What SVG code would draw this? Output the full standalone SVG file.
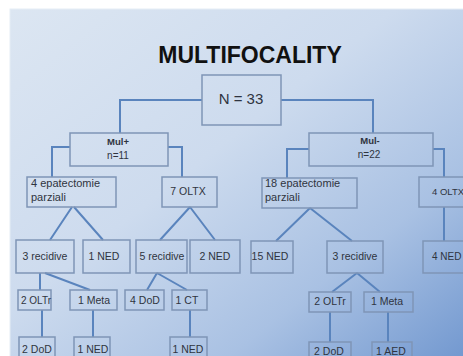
<svg xmlns="http://www.w3.org/2000/svg" width="463" height="356" viewBox="0 0 463 356">
<defs>
<linearGradient id="bg" x1="0" y1="0" x2="1" y2="1">
<stop offset="0" stop-color="#dce6f2"/>
<stop offset="0.42" stop-color="#cddbee"/>
<stop offset="0.72" stop-color="#a9c1e3"/>
<stop offset="1" stop-color="#6e95ce"/>
</linearGradient>
<style>
.box{fill:none;stroke:#7f95b6;stroke-width:1.5}
.ln{fill:none;stroke:#5a84bd;stroke-width:2}
.t{font-family:"Liberation Sans",Arial,sans-serif;font-size:10.5px;fill:#2f3440}
.c{text-anchor:middle}
.b{font-weight:bold}
</style>
</defs>
<rect x="0" y="0" width="463" height="356" fill="#ffffff"/>
<rect x="10" y="9" width="460" height="360" fill="url(#bg)" stroke="#e6edf6" stroke-width="1"/>
<text x="250" y="63" text-anchor="middle" style="font-family:'Liberation Sans',Arial,sans-serif;font-size:23px;font-weight:bold;fill:#111">MULTIFOCALITY</text>

<g id="connectors">
<path class="ln" d="M202 100 H120 V133"/>
<path class="ln" d="M281 100 H373 V133"/>
<path class="ln" d="M70 147 H52 V177"/>
<path class="ln" d="M168 147 H182 V177"/>
<path class="ln" d="M309 149 H287 V178"/>
<path class="ln" d="M433 149 H444 V177"/>
<path class="ln" d="M72 207 L50 240 M74 207 L103 240"/>
<path class="ln" d="M190 207 L160 240 M190 207 L215 240"/>
<path class="ln" d="M310 208 L276 241 M310 208 L352 241"/>
<path class="ln" d="M444 207 V241"/>
<path class="ln" d="M40 273 V290 M45 273 L90 290"/>
<path class="ln" d="M157 273 L147 290 M157 273 L187 290"/>
<path class="ln" d="M357 273 L332 292 M357 273 L380 292"/>
<path class="ln" d="M42 310 V337 M93 310 V337 M190 310 V337"/>
<path class="ln" d="M330 312 V342 M388 312 V342"/>
</g>

<g id="n33"><rect class="box" x="202" y="75" width="79" height="50"/><text class="t c" x="241" y="104" style="font-size:15px">N = 33</text></g>
<g id="mulplus"><rect class="box" x="70" y="133" width="98" height="33"/><text class="t c b" x="118" y="145" style="font-size:9.5px">Mul+</text><text class="t c" x="118" y="159" style="font-size:10px">n=11</text></g>
<g id="mulminus"><rect class="box" x="309" y="133" width="124" height="33"/><text class="t c b" x="370" y="144" style="font-size:9.5px">Mul-</text><text class="t c" x="369" y="158" style="font-size:10px">n=22</text></g>

<g id="epat4"><rect class="box" x="27" y="177" width="89" height="30"/><text class="t" x="31" y="187" style="font-size:11px">4 epatectomie</text><text class="t" x="31" y="201" style="font-size:11px">parziali</text></g>
<g id="oltx7"><rect class="box" x="162" y="177" width="55" height="30"/><text class="t c" x="188" y="195">7 OLTX</text></g>
<g id="epat18"><rect class="box" x="262" y="178" width="95" height="30"/><text class="t" x="265" y="187" style="font-size:11px">18 epatectomie</text><text class="t" x="265" y="201" style="font-size:11px">parziali</text></g>
<g id="oltx4"><rect class="box" x="419" y="177" width="60" height="30"/><text class="t" x="432" y="195" style="font-size:9.5px">4 OLTX</text></g>

<g id="rec3a"><rect class="box" x="16" y="240" width="58" height="33"/><text class="t c" x="45" y="260">3 recidive</text></g>
<g id="ned1a"><rect class="box" x="83" y="240" width="47" height="33"/><text class="t c" x="104" y="260">1 NED</text></g>
<g id="rec5"><rect class="box" x="136" y="240" width="51" height="33"/><text class="t c" x="162" y="260">5 recidive</text></g>
<g id="ned2"><rect class="box" x="190" y="240" width="50" height="33"/><text class="t c" x="215" y="260">2 NED</text></g>
<g id="ned15"><rect class="box" x="251" y="241" width="42" height="32"/><text class="t c" x="270" y="260">15 NED</text></g>
<g id="rec3b"><rect class="box" x="327" y="241" width="56" height="32"/><text class="t c" x="355" y="260">3 recidive</text></g>
<g id="ned4"><rect class="box" x="423" y="241" width="56" height="32"/><text class="t" x="432" y="260" style="font-size:10px">4 NED</text></g>

<g id="oltr2a"><rect class="box" x="18" y="290" width="33" height="20"/><text class="t c" x="36" y="304" style="font-size:10px">2 OLTr</text></g>
<g id="meta1a"><rect class="box" x="70" y="290" width="47" height="20"/><text class="t c" x="94" y="304">1 Meta</text></g>
<g id="dod4"><rect class="box" x="125" y="290" width="39" height="20"/><text class="t c" x="145" y="304">4 DoD</text></g>
<g id="ct1"><rect class="box" x="172" y="290" width="35" height="20"/><text class="t c" x="187" y="304">1 CT</text></g>
<g id="oltr2b"><rect class="box" x="309" y="292" width="42" height="20"/><text class="t c" x="330" y="305">2 OLTr</text></g>
<g id="meta1b"><rect class="box" x="364" y="292" width="49" height="20"/><text class="t c" x="387" y="305">1 Meta</text></g>

<g id="dod2a"><rect class="box" x="19" y="337" width="36" height="25"/><text class="t c" x="37" y="353">2 DoD</text></g>
<g id="ned1b"><rect class="box" x="74" y="337" width="36" height="25"/><text class="t c" x="93" y="353">1 NED</text></g>
<g id="ned1c"><rect class="box" x="170" y="337" width="37" height="25"/><text class="t c" x="188" y="353">1 NED</text></g>
<g id="dod2b"><rect class="box" x="309" y="342" width="42" height="25"/><text class="t c" x="329" y="355">2 DoD</text></g>
<g id="aed1"><rect class="box" x="372" y="342" width="40" height="25"/><text class="t c" x="391" y="355">1 AED</text></g>
</svg>
